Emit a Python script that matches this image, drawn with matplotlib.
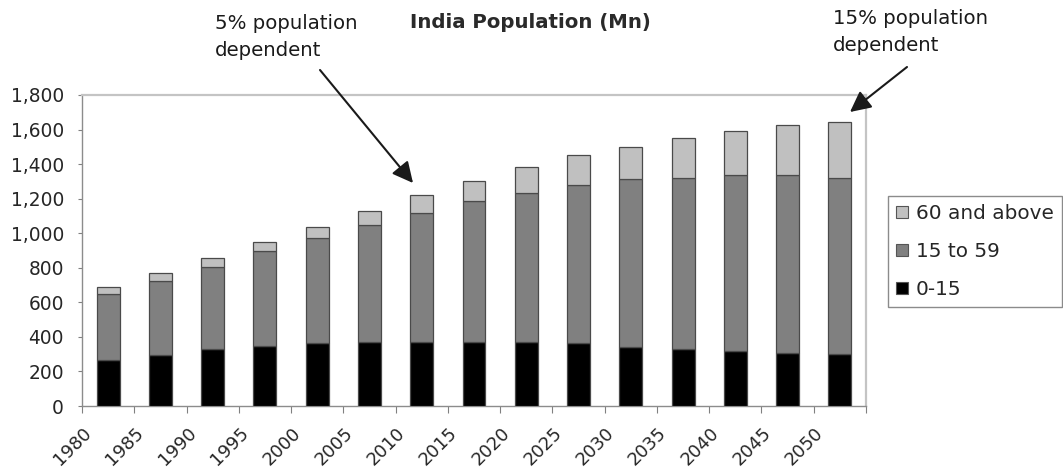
import matplotlib
matplotlib.use("Agg")
import matplotlib.pyplot as plt
import numpy as np
from matplotlib.patches import Patch, FancyArrowPatch
from matplotlib.ticker import FuncFormatter, FixedLocator
from matplotlib.transforms import ScaledTranslation

# India population by age group, millions
years = ["1980", "1985", "1990", "1995", "2000", "2005", "2010", "2015",
         "2020", "2025", "2030", "2035", "2040", "2045", "2050"]
age_0_15 = [266, 295, 328, 349, 363, 372, 372, 372, 372, 363, 340, 328, 320, 305, 301]
age_15_59 = [380, 430, 478, 548, 611, 676, 747, 816, 859, 916, 974, 994, 1019, 1034, 1021]
age_60_plus = [44, 43, 52, 50, 64, 82, 102, 114, 150, 172, 187, 227, 255, 287, 323]

series_labels = ["0-15", "15 to 59", "60 and above"]
series_colors = ["#000000", "#808080", "#c0c0c0"]
title = "India Population (Mn)"
note_left = "5% population\ndependent"
note_right = "15% population\ndependent"

W, H, DPI = 1063, 472, 100
plt.rcParams["font.family"] = ["DejaVu Sans"]

fig = plt.figure(figsize=(W / DPI, H / DPI), dpi=DPI)
fig.patch.set_facecolor("white")


def fx(px):
    return px / W


def fy(py):
    return 1 - py / H


ax = fig.add_axes([fx(82), fy(406), fx(866) - fx(82), fy(95) - fy(406)])

x = np.arange(len(years))
bar_w = 0.44
edge = "#4a4a4a"
bottom = np.zeros(len(years))
handles = []
for vals, lab, col in zip([age_0_15, age_15_59, age_60_plus], series_labels, series_colors):
    ax.bar(x, vals, bar_w, bottom=bottom, color=col, edgecolor=edge, linewidth=0.9,
           label=lab, zorder=3)
    bottom = bottom + np.array(vals)
    handles.append(Patch(facecolor=col, edgecolor="#555555", linewidth=0.8, label=lab))

ax.set_xlim(-0.5, len(years) - 0.5)
ax.set_ylim(0, 1800)

# y axis
ax.yaxis.set_major_locator(FixedLocator(np.arange(0, 1801, 200)))
ax.yaxis.set_major_formatter(FuncFormatter(lambda v, p: f"{int(v):,}"))
ax.tick_params(axis="y", which="major", length=3, width=0.8, color="#808080",
               pad=10, labelsize=13.4, labelcolor="#262626")

# x axis: labels under categories, tick marks between categories
ax.set_xticks(x)
ax.set_xticklabels(years, rotation=45, ha="right")
ax.set_xticks(np.arange(-0.5, len(years)), minor=True)
ax.tick_params(axis="x", which="major", length=0, pad=13, labelsize=13.0,
               labelcolor="#262626")
ax.tick_params(axis="x", which="minor", length=5, width=0.8, color="#808080")
shift = ScaledTranslation(-13 / DPI, 0, fig.dpi_scale_trans)
for lbl in ax.get_xticklabels():
    lbl.set_transform(lbl.get_transform() + shift)

for side in ["left", "bottom"]:
    ax.spines[side].set_color("#8c8c8c")
    ax.spines[side].set_linewidth(1.0)
for side in ["top", "right"]:
    ax.spines[side].set_color("#c4c4c4")
    ax.spines[side].set_linewidth(1.6)

# legend, top series first
leg = fig.legend(handles=handles[::-1], loc="lower left",
                 bbox_to_anchor=(fx(888), fy(307)), bbox_transform=fig.transFigure,
                 fontsize=14.4, frameon=True, fancybox=False, shadow=False,
                 handlelength=0.6, handleheight=0.6, handletextpad=0.4,
                 labelspacing=0.95, borderpad=0.4, borderaxespad=0)
leg.get_frame().set_edgecolor("#6e6e6e")
leg.get_frame().set_linewidth(1.0)
for t in leg.get_texts():
    t.set_color("#262626")

# title and notes
fig.text(fx(530), fy(22), title, ha="center", va="center", fontsize=14.2,
         fontweight="bold", color="#2a2a2a")
fig.text(fx(215), fy(37), note_left, ha="left", va="center", fontsize=14.2,
         color="#1a1a1a", linespacing=1.5)
fig.text(fx(833), fy(32), note_right, ha="left", va="center", fontsize=14.2,
         color="#1a1a1a", linespacing=1.5)

arrow_kw = dict(arrowstyle="-|>,head_length=0.9,head_width=0.45", color="#1a1a1a",
                lw=1.5, shrinkA=0, shrinkB=0)
fig.add_artist(FancyArrowPatch(
    (fx(320), fy(70)), (fx(413), fy(183)), transform=fig.transFigure,
    mutation_scale=14, **arrow_kw))
fig.add_artist(FancyArrowPatch(
    (fx(907), fy(67)), (fx(850), fy(112)), transform=fig.transFigure,
    mutation_scale=14, **arrow_kw))

fig.savefig("out.png", dpi=DPI, facecolor="white")
